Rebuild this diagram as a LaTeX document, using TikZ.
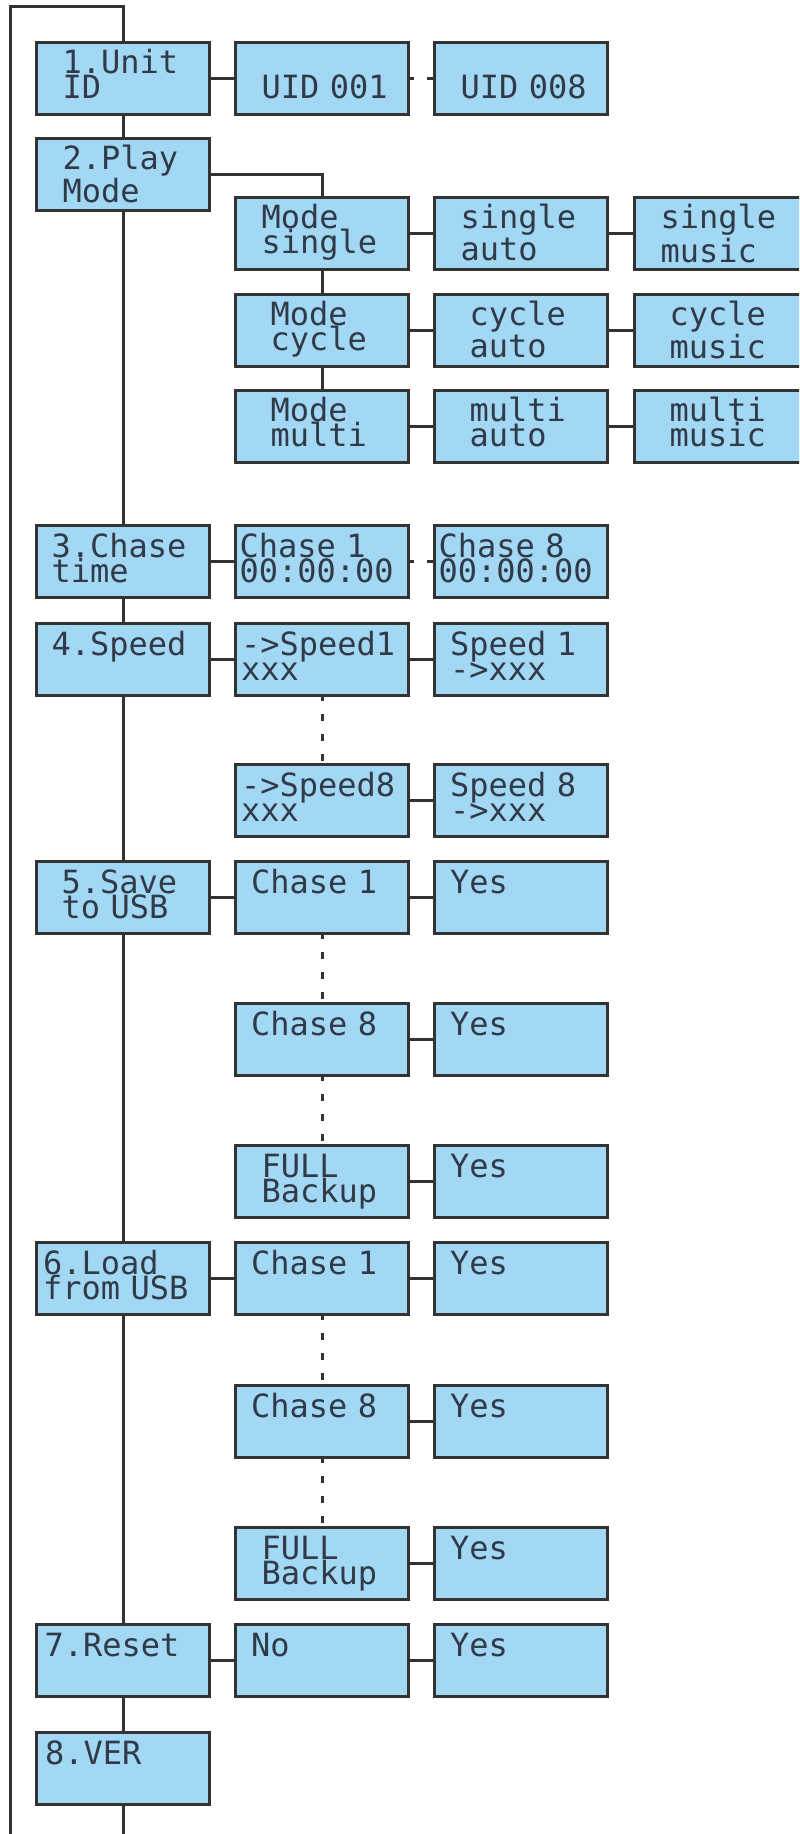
\documentclass[tikz,border=0pt]{standalone}
\usepackage{fontspec}
\usepackage{tikz}
\usetikzlibrary{positioning}
\newfontfamily\lcdfont[WordSpace={1,0,0}]{DejaVu Sans Mono}
\definecolor{LcdBlue}{RGB}{163,216,245}
\definecolor{FrameGray}{RGB}{51,51,51}
\definecolor{DotGray}{RGB}{48,58,72}

\begin{document}
\begin{tikzpicture}[x=0.5pt,y=-0.5pt,
  box/.style={draw=FrameGray,fill=LcdBlue,line width=1.5pt,
              minimum width=86.5pt,minimum height=36pt,inner ysep=2pt,
              inner xsep=#1,text width=86.5pt-2*#1,align=left,
              text height=12pt,text depth=16.5pt,text=DotGray,
              font=\lcdfont\fontsize{16pt}{12.5pt}\selectfont},
  box/.default=8pt,
  link/.style={draw=FrameGray,line width=1.5pt},
  dots/.style={link,dash pattern=on 3.5pt off 6.5pt,dash phase=1.5pt},
]
\useasboundingbox (0,0) rectangle (799,1834);
\clip (0,0) rectangle (799,1834);
% main menu
\node[box=13pt] (unit) at (123,78.5) {1.Unit\\ID};
\node[box=13pt] (play) at (123,174.5) {2.Play\\Mode};
\node[box=7.5pt] (chase) at (123,561.5) {3.Chase\\time};
\node[box=7.5pt] (speed) at (123,659.5) {4.Speed};
\node[box=12.5pt] (save) at (123,897.5) {5.Save\\to~USB};
\node[box=3.25pt] (load) at (123,1278.5) {6.Load\\from~USB};
\node[box=4pt] (reset) at (123,1660.5) {7.Reset};
\node[box=4.25pt] (ver) at (123,1768.5) {8.VER};
% unit id
\node[box=13pt] (uidone) at (322,78.5) {\mbox{}\\UID~001};
\node[box=13pt] (uideight) at (521,78.5) {\mbox{}\\UID~008};
% play mode
\node[box=13pt] (msingle) at (322,233.5) {Mode\\single};
\node[box=13pt] (sauto) at (521,233.5) {single\\auto};
\node[box=13pt] (smusic) at (721,233.5) {single\\music};
\node[box=17.5pt] (mcycle) at (322,330.5) {Mode\\cycle};
\node[box=17.5pt] (cauto) at (521,330.5) {cycle\\auto};
\node[box=17.5pt] (cmusic) at (721,330.5) {cycle\\music};
\node[box=17.5pt] (mmulti) at (322,426.5) {Mode\\multi};
\node[box=17.5pt] (mauto) at (521,426.5) {multi\\auto};
\node[box=17.5pt] (mmusic) at (721,426.5) {multi\\music};
% chase time
\node[box=2pt] (chone) at (322,561.5) {Chase~1\\00:00:00};
\node[box=2pt] (cheight) at (521,561.5) {Chase~8\\00:00:00};
% speed
\node[box=2.75pt] (spone) at (322,659.5) {->Speed1\\xxx};
\node[box=7.75pt] (spvone) at (521,659.5) {Speed~1\\->xxx};
\node[box=2.75pt] (speight) at (322,800.5) {->Speed8\\xxx};
\node[box=7.75pt] (spveight) at (521,800.5) {Speed~8\\->xxx};
% save to usb
\node[box=7.75pt] (svone) at (322,897.5) {Chase~1};
\node[box=7.75pt] (svyone) at (521,897.5) {Yes};
\node[box=7.75pt] (sveight) at (322,1039.5) {Chase~8};
\node[box=7.75pt] (svyeight) at (521,1039.5) {Yes};
\node[box=13pt] (svfull) at (322,1181.5) {FULL\\Backup};
\node[box=7.75pt] (svyfull) at (521,1181.5) {Yes};
% load from usb
\node[box=7.75pt] (ldone) at (322,1278.5) {Chase~1};
\node[box=7.75pt] (ldyone) at (521,1278.5) {Yes};
\node[box=7.75pt] (ldeight) at (322,1421.5) {Chase~8};
\node[box=7.75pt] (ldyeight) at (521,1421.5) {Yes};
\node[box=13pt] (ldfull) at (322,1563.5) {FULL\\Backup};
\node[box=7.75pt] (ldyfull) at (521,1563.5) {Yes};
% reset
\node[box=7.75pt] (rsno) at (322,1660.5) {No};
\node[box=7.75pt] (rsyes) at (521,1660.5) {Yes};
\coordinate (looptop) at (10,7);
\coordinate (loopend) at (10,1850);
\coordinate (verend) at (123,1850);
% connectors
\draw[link] (unit) |- (looptop) -- (loopend);
\draw[link] (unit) -- (play) -- (chase) -- (speed) -- (save) -- (load)
  -- (reset) -- (ver) -- (verend);
\draw[link] (unit) -- (uidone);
\draw[dots] (uidone) -- (uideight);
\draw[link] (play) -| (msingle) -- (mcycle) -- (mmulti);
\draw[link] (msingle) -- (sauto) -- (smusic);
\draw[link] (mcycle) -- (cauto) -- (cmusic);
\draw[link] (mmulti) -- (mauto) -- (mmusic);
\draw[link] (chase) -- (chone);
\draw[dots] (chone) -- (cheight);
\draw[link] (speed) -- (spone) -- (spvone);
\draw[dots] (spone) -- (speight);
\draw[link] (speight) -- (spveight);
\draw[link] (save) -- (svone) -- (svyone);
\draw[dots] (svone) -- (sveight);
\draw[link] (sveight) -- (svyeight);
\draw[dots] (sveight) -- (svfull);
\draw[link] (svfull) -- (svyfull);
\draw[link] (load) -- (ldone) -- (ldyone);
\draw[dots] (ldone) -- (ldeight);
\draw[link] (ldeight) -- (ldyeight);
\draw[dots] (ldeight) -- (ldfull);
\draw[link] (ldfull) -- (ldyfull);
\draw[link] (reset) -- (rsno) -- (rsyes);
\end{tikzpicture}
\end{document}
